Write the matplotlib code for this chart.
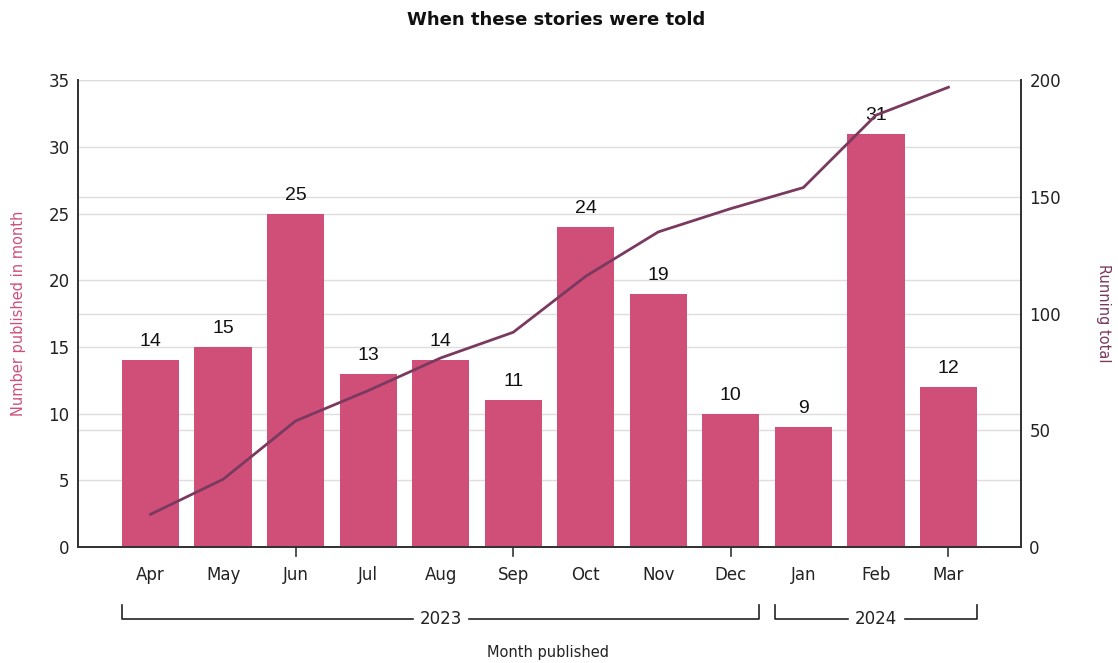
import numpy as np
import matplotlib
matplotlib.use('Agg')
import matplotlib.pyplot as plt
import matplotlib.transforms as mtransforms

months = ['Apr', 'May', 'Jun', 'Jul', 'Aug', 'Sep', 'Oct', 'Nov', 'Dec', 'Jan', 'Feb', 'Mar']
counts = [14, 15, 25, 13, 14, 11, 24, 19, 10, 9, 31, 12]
years = ['2023', '2024']
year_spans = [(0, 8), (9, 11)]   # first and last month index of each year

BAR_COLOR = '#CF4F78'
LINE_COLOR = '#7A3A60'
GRID_COLOR = '#DDDDDD'
BAR_WIDTH = 0.79

plt.rcParams['font.family'] = ['DejaVu Sans']

running = np.cumsum(counts)
x = np.arange(len(months))

fig = plt.figure(figsize=(11.18, 6.63), dpi=100)
ax = fig.add_axes([0.0698, 0.175, 0.9132 - 0.0698, 0.704])
ax2 = ax.twinx()

ax.set_ylim(0, 35)
ax.set_yticks(np.arange(0, 36, 5))
ax2.set_ylim(0, 200)
ax2.set_yticks(np.arange(0, 201, 50))

# both grids live in the bar axes so the bars cover them
xs = mtransforms.blended_transform_factory(ax.transAxes, ax.transData)
xs2 = mtransforms.blended_transform_factory(ax.transAxes, ax2.transData)
for yv in np.arange(5, 36, 5):
    ax.plot([0, 1], [yv, yv], transform=xs, color=GRID_COLOR, lw=1, zorder=0)
for yv in np.arange(50, 201, 50):
    ax.plot([0, 1], [yv, yv], transform=xs2, color=GRID_COLOR, lw=1, zorder=0)

ax.bar(x, counts, width=BAR_WIDTH, color=BAR_COLOR, zorder=2)
for xi, c in zip(x, counts):
    ax.text(xi, c + 0.75, str(c), ha='center', va='bottom', fontsize=14,
            family='Liberation Sans', color='#111111', zorder=3)

ax2.plot(x, running, color=LINE_COLOR, lw=2, zorder=4)

ax.set_xlim(-1, 12)
ax.set_xticks(x)
ax.set_xticklabels(months, fontsize=12, color='#222222')
ax.tick_params(axis='x', length=0, pad=14)
# small ticks every third month
tr = mtransforms.blended_transform_factory(ax.transData, ax.transAxes)
for xi in x[2::3]:
    ax.plot([xi, xi], [0, -0.02], transform=tr, color='#333333', lw=1.2, clip_on=False)

ax.tick_params(axis='y', length=0, labelsize=12, labelcolor='#222222', pad=6)
ax2.tick_params(axis='y', length=0, labelsize=12, labelcolor='#222222', pad=6)

for a in (ax, ax2):
    a.spines['top'].set_visible(False)
    for s in ('left', 'right', 'bottom'):
        a.spines[s].set_color('#333333')
        a.spines[s].set_linewidth(1.3)

ax.set_ylabel('Number published in month', color=BAR_COLOR, fontsize=10.5, labelpad=16)
ax2.set_ylabel('Running total', color=LINE_COLOR, fontsize=10.5, rotation=270, labelpad=36)

# year brackets under the month labels
y_line = -0.154
y_top = -0.124
for label, (i0, i1) in zip(years, year_spans):
    x0 = i0 - BAR_WIDTH / 2
    x1 = i1 + BAR_WIDTH / 2
    ax.plot([x0, x0, x1, x1], [y_top, y_line, y_line, y_top], transform=tr,
            color='#222222', lw=1.2, clip_on=False)
    ax.text((x0 + x1) / 2, y_line, label, transform=tr, ha='center', va='center',
            fontsize=12, color='#222222', backgroundcolor='white')

fig.text(0.49, 0.005, 'Month published', ha='center', va='bottom', fontsize=10.5, color='#222222')
fig.text(0.497, 0.97, 'When these stories were told', ha='center', va='center',
         fontsize=13, fontweight='bold', color='#111111')

fig.savefig('out.png', dpi=100)
